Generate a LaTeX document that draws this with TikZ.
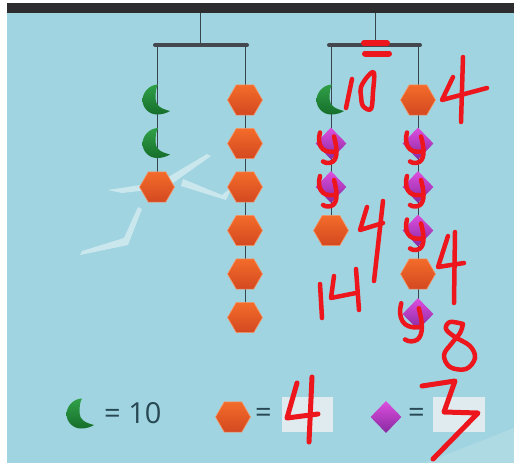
\documentclass[tikz,border=0pt]{standalone}
\usepackage{fontspec}
\setmainfont{Open Sans}
\usepackage{xcolor}
\usetikzlibrary{shapes.geometric, math}
\definecolor{mysky}{RGB}{160,212,224}
\definecolor{mybar}{RGB}{45,45,48}
\definecolor{myrod}{RGB}{68,72,78}
\definecolor{mystring}{RGB}{55,70,78}
\definecolor{myhexa}{RGB}{243,108,42}
\definecolor{myhexb}{RGB}{212,72,32}
\definecolor{mygema}{RGB}{222,78,222}
\definecolor{mygemb}{RGB}{135,42,160}
\definecolor{mymoona}{RGB}{48,160,72}
\definecolor{mymoonb}{RGB}{22,110,42}
\definecolor{myink}{RGB}{236,22,28}
\definecolor{mytext}{RGB}{40,72,84}
\definecolor{mybox}{RGB}{230,238,240}

\tikzset{
  hexa/.style={regular polygon, regular polygon sides=6, minimum size=35pt, inner sep=0pt,
    top color=myhexa, bottom color=myhexb, draw=myhexa!70!white, line width=0.6pt},
  gem/.style={diamond, minimum width=31pt, minimum height=32pt, inner sep=0pt,
    top color=mygema, bottom color=mygemb},
  moon/.pic={
    \shade[top color=mymoona, bottom color=mymoonb] (1,-15.5) .. controls (-7,-15.5) and (-14.5,-8) .. (-14.5,0)
      .. controls (-14.5,8) and (-8,14.5) .. (0,14.5) .. controls (5,14.5) and (10,13) .. (13,11)
      .. controls (5,9) and (-1.5,6) .. (-1.5,-1) .. controls (-1.5,-8) and (-1,-12) .. (1,-15.5) -- cycle;
  },
  ink/.style={draw=myink, line width=4.5pt, line cap=round, line join=round},
  ymark/.pic={
    \draw[ink] (-11,-11) .. controls (-14,0) and (-10,10) .. (3,8);
    \draw[ink] (3,-7) .. controls (6,4) and (7,14) .. (2,18) .. controls (-1,20) and (-5,20) .. (-8,18);
  },
  rod/.style={draw=myrod, line width=4pt, line cap=round, shorten <=-2pt, shorten >=-2pt},
  thread/.style={draw=mystring, line width=0.8pt},
  gull/.style={fill=white, opacity=0.45},
  sign/.style={text=mytext, font=\fontsize{29}{34}\selectfont, inner sep=0pt},
  answer/.style={fill=mybox, opacity=0.9},
}

\begin{document}
\begin{tikzpicture}[x=1pt, y=-1pt]
\tikzmath{
\dy=43.5;
\ya=100;
\yrod=45;
}
\useasboundingbox (0,0) rectangle (514,463);
\fill[white] (0,0) rectangle (514,463);
\fill[mysky] (7,13) rectangle (514,463);
\fill[mybar] (7,3) rectangle (514,13);
\fill[white, opacity=0.15] (425,463) -- (514,428) -- (514,463) -- cycle;

% gulls
\fill[gull] (108,190) -- (160,182) -- (207,154) -- (211,156) -- (166,188) -- (122,193) -- cycle;
\fill[gull] (183,179) -- (222,195) -- (232,187) -- (226,200) -- (181,186) -- cycle;
\fill[gull] (138,207) -- (124,238) -- (82,251) -- (80,255) -- (128,245) -- (142,209) -- cycle;

% hangers and rods
\coordinate (A0) at (200,13);
\coordinate (A1) at (200,\yrod);
\coordinate (B0) at (375,13);
\coordinate (B1) at (375,\yrod);
\coordinate (AL) at (157,\yrod);
\coordinate (AR) at (245,\yrod);
\coordinate (BL) at (331,\yrod);
\coordinate (BR) at (418,\yrod);
\draw[thread] (A0) -- (A1);
\draw[thread] (B0) -- (B1);

\foreach \k in {0,...,5}{
  \coordinate (a\k) at (157,\ya+\k*\dy);
  \coordinate (b\k) at (245,\ya+\k*\dy);
  \coordinate (c\k) at (331,\ya+\k*\dy);
  \coordinate (d\k) at (418,\ya+\k*\dy);
}
\coordinate (d5) at (418,314);
\draw[thread] (AL) -- (a2);
\draw[thread] (AR) -- (b5);
\draw[thread] (BL) -- (c3);
\draw[thread] (BR) -- (d5);
\draw[rod] (AL) -- (AR);
\draw[rod] (BL) -- (BR);

% left mobile
\pic at (a0) {moon};
\pic at (a1) {moon};
\node[hexa] (ha2) at (a2) {};
\foreach \k in {0,...,5}
  \node[hexa] (hb\k) at (b\k) {};

% right mobile
\pic at (c0) {moon};
\node[gem] (gc1) at (c1) {};
\node[gem] (gc2) at (c2) {};
\node[hexa] (hc3) at (c3) {};
\node[hexa] (hd0) at (d0) {};
\node[gem] (gd1) at (d1) {};
\node[gem] (gd2) at (d2) {};
\node[gem] (gd3) at (d3) {};
\node[hexa] (hd4) at (d4) {};
\node[gem] (gd5) at (d5) {};

% legend
\pic at (81,414) {moon};
\node[sign, anchor=west] (ten) at (104,413) {= 10};
\node[hexa] (hkey) at (233,417) {};
\node[sign] (eqa) at (263.5,415) {=};
\fill[answer] (282,397) rectangle (333,432);
\node[gem] (gkey) at (386,417) {};
\node[sign] (eqb) at (416.5,415) {=};
\fill[answer] (433,397) rectangle (485,432);

% pen marks
\draw[ink, line width=6pt] (364,43) -- (387,43);
\draw[ink, line width=6pt] (365,53.5) -- (389,53.5);
\draw[ink] (352,79) -- (346,108);
\draw[ink] plot[smooth cycle, tension=0.6] coordinates {(361,87) (368,76) (374,73) (373,92) (371,109) (363,106) (361,96)};
\draw[ink] (453,77) -- (442,100) -- (487,88);
\draw[ink] (463,57) -- (461,122);
\foreach \p in {c1,c2,d1,d2,d3}
  \pic at (\p) {ymark};
\pic[scale=1.25] at (415,317) {ymark};
\draw[ink] (367,207) -- (360,230) -- (383,223);
\draw[ink] (383,201) -- (374,281);
\draw[ink] (320,284) -- (322,318);
\draw[ink] (334,276) -- (331,298) -- (356,293);
\draw[ink] (356,269) -- (359,310);
\draw[ink] (448,236) -- (438,267) -- (464,263);
\draw[ink] (455,232) -- (454,303);
\draw[ink] plot[smooth, tension=0.6] coordinates {(463,324) (450,322) (446,329) (455,337) (470,346) (475,358) (466,369) (450,367) (444,355) (452,343) (460,333) (463,324)};
\draw[ink, line width=5pt] (297,383) -- (287,418) -- (318,414);
\draw[ink, line width=5pt] (312,377) -- (309,442);
\draw[ink, line width=5pt] (422,386) -- (455,381) -- (444,412) -- (478,413) -- (433,459);
\end{tikzpicture}
\end{document}
